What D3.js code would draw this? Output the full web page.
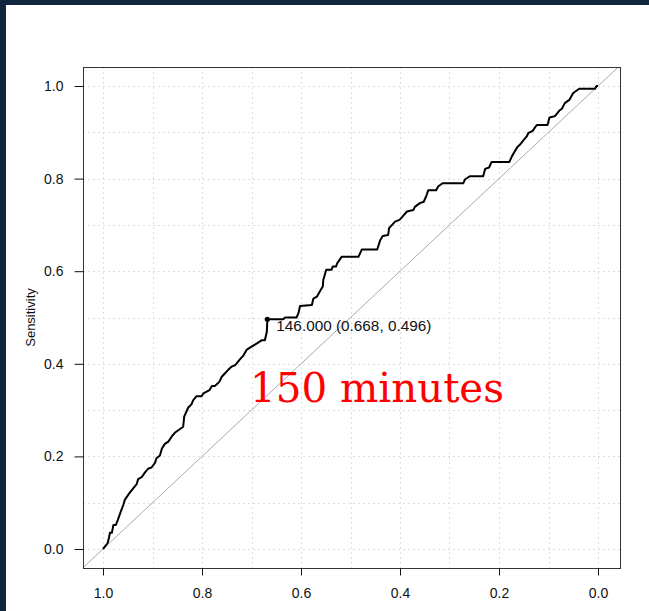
<!DOCTYPE html>
<html>
<head>
<meta charset="utf-8">
<script src="https://cdn.jsdelivr.net/npm/d3@7"></script>
<style>
  body { margin: 0; background: #ffffff; }
  svg { display: block; }
</style>
</head>
<body>
<div id="svg-container1"></div>
<script>
const width = 649;
const height = 611;
// plot box edges (R style, data range padded by 4%)
const box = {'left': 83, 'right': 620, 'top': 67, 'bottom': 568};

// ROC curve (specificity runs 1 -> 0)
const specificity = [1.000, 0.991, 0.988, 0.986, 0.982, 0.979, 0.974, 0.970, 0.964, 0.959,
    0.956, 0.947, 0.939, 0.932, 0.929, 0.922, 0.914, 0.908, 0.902, 0.895,
    0.892, 0.885, 0.881, 0.875, 0.868, 0.861, 0.855, 0.838, 0.836, 0.828,
    0.821, 0.818, 0.811, 0.801, 0.797, 0.785, 0.780, 0.774, 0.765, 0.760,
    0.754, 0.747, 0.740, 0.733, 0.723, 0.717, 0.710, 0.700, 0.689, 0.679,
    0.673, 0.669, 0.668, 0.636, 0.632, 0.609, 0.605, 0.602, 0.578, 0.575,
    0.568, 0.562, 0.556, 0.555, 0.549, 0.538, 0.536, 0.529, 0.527, 0.518,
    0.484, 0.477, 0.446, 0.440, 0.435, 0.424, 0.422, 0.410, 0.401, 0.395,
    0.386, 0.373, 0.370, 0.360, 0.352, 0.346, 0.343, 0.327, 0.323, 0.314,
    0.272, 0.269, 0.259, 0.232, 0.228, 0.220, 0.215, 0.179, 0.174, 0.168,
    0.163, 0.158, 0.152, 0.144, 0.141, 0.132, 0.127, 0.123, 0.102, 0.098,
    0.087, 0.078, 0.073, 0.067, 0.058, 0.050, 0.038, 0.006, 0.003, 0.000];
const sensitivity = [0.000, 0.012, 0.024, 0.035, 0.035, 0.052, 0.052, 0.063, 0.081, 0.095,
    0.106, 0.120, 0.131, 0.140, 0.151, 0.155, 0.167, 0.174, 0.176, 0.186,
    0.196, 0.202, 0.217, 0.227, 0.232, 0.243, 0.251, 0.264, 0.286, 0.305,
    0.313, 0.321, 0.330, 0.330, 0.336, 0.343, 0.352, 0.352, 0.361, 0.372,
    0.379, 0.387, 0.394, 0.397, 0.410, 0.417, 0.430, 0.437, 0.444, 0.451,
    0.451, 0.469, 0.496, 0.496, 0.500, 0.500, 0.510, 0.525, 0.527, 0.541,
    0.545, 0.556, 0.567, 0.581, 0.603, 0.603, 0.610, 0.610, 0.617, 0.631,
    0.631, 0.647, 0.647, 0.667, 0.676, 0.678, 0.693, 0.707, 0.711, 0.718,
    0.729, 0.732, 0.739, 0.747, 0.750, 0.765, 0.775, 0.775, 0.783, 0.790,
    0.790, 0.798, 0.805, 0.805, 0.821, 0.824, 0.836, 0.836, 0.848, 0.859,
    0.868, 0.873, 0.881, 0.891, 0.898, 0.903, 0.911, 0.916, 0.916, 0.932,
    0.935, 0.947, 0.951, 0.963, 0.970, 0.985, 0.994, 0.994, 1.000, 1.000];

// best threshold
const threshold = 146.000;
const bestSpec = 0.668;
const bestSens = 0.496;

const xTicks = [1.0, 0.8, 0.6, 0.4, 0.2, 0.0];
const yTicks = [0.0, 0.2, 0.4, 0.6, 0.8, 1.0];
const gridValues = [0, 0.1, 0.2, 0.3, 0.4, 0.5, 0.6, 0.7, 0.8, 0.9, 1.0];
const yLabel = 'Sensitivity';
const annotation = '150 minutes';

let svg;

window.addEventListener('load', () => {
    drawRocChart();
});

const drawRocChart = () => {
    const data = specificity.map((s, i) => ({spec: s, sens: sensitivity[i]}));

    svg = d3.select('#svg-container1')
    .append('svg')
    .attr('width', width)
    .attr('height', height);

    // page background with dark frame
    svg.append('rect')
    .attr('width', width)
    .attr('height', height)
    .attr('fill', '#ffffff');
    svg.append('rect')
    .attr('width', width)
    .attr('height', 5)
    .attr('fill', '#11253f');
    svg.append('rect')
    .attr('width', 6)
    .attr('height', height)
    .attr('fill', '#11253f');

    // scales
    var xAxis = d3.scaleLinear()
    .domain([1, 0])
    .range([103, 598]);

    var yAxis = d3.scaleLinear()
    .domain([0, 1])
    .range([549, 86]);

    svg.append('clipPath')
    .attr('id', 'plot-clip')
    .append('rect')
    .attr('x', box.left)
    .attr('y', box.top)
    .attr('width', box.right - box.left)
    .attr('height', box.bottom - box.top);

    // dotted grid
    const grid = svg.append('g').attr('class', 'grid');
    grid.selectAll('line.gx')
    .data(gridValues)
    .enter()
    .append('line')
    .attr('class', 'gx')
    .attr('x1', d => Math.round(xAxis(d)) + 0.5)
    .attr('x2', d => Math.round(xAxis(d)) + 0.5)
    .attr('y1', box.top)
    .attr('y2', box.bottom)
    .attr('stroke', '#dedede')
    .attr('stroke-dasharray', '2,3');
    grid.selectAll('line.gy')
    .data(gridValues)
    .enter()
    .append('line')
    .attr('class', 'gy')
    .attr('y1', d => Math.round(yAxis(d)) + 0.5)
    .attr('y2', d => Math.round(yAxis(d)) + 0.5)
    .attr('x1', box.left)
    .attr('x2', box.right)
    .attr('stroke', '#dedede')
    .attr('stroke-dasharray', '2,3');

    // chance diagonal
    svg.append('line')
    .attr('clip-path', 'url(#plot-clip)')
    .attr('x1', xAxis(1.1))
    .attr('y1', yAxis(-0.1))
    .attr('x2', xAxis(-0.1))
    .attr('y2', yAxis(1.1))
    .attr('stroke', '#aaaaaa')
    .attr('stroke-width', 1);

    // roc curve
    svg.append('path')
    .datum(data)
    .attr('fill', 'none')
    .attr('stroke', 'black')
    .attr('stroke-width', 2)
    .attr('stroke-linejoin', 'round')
    .attr('d', d3.line()
        .x(function(d) { return xAxis(d.spec) })
        .y(function(d) { return yAxis(d.sens) })
    );

    // threshold point and label
    svg.append('circle')
    .attr('cx', xAxis(bestSpec))
    .attr('cy', yAxis(bestSens))
    .attr('r', 2.6)
    .attr('fill', 'black');

    svg.append('text')
    .attr('x', xAxis(bestSpec) + 9)
    .attr('y', yAxis(bestSens) + 12)
    .attr('font-family', '"Liberation Sans", Arial, sans-serif')
    .attr('font-size', 14)
    .attr('textLength', 155)
    .attr('lengthAdjust', 'spacingAndGlyphs')
    .attr('fill', '#111')
    .text(threshold.toFixed(3) + ' (' + bestSpec.toFixed(3) + ', ' + bestSens.toFixed(3) + ')');

    // big red note
    svg.append('text')
    .attr('x', 250)
    .attr('y', 402)
    .attr('font-family', '"DejaVu Serif", serif')
    .attr('font-size', 41)
    .attr('textLength', 254)
    .attr('lengthAdjust', 'spacingAndGlyphs')
    .attr('fill', '#ff0000')
    .text(annotation);

    // box
    svg.append('rect')
    .attr('x', box.left + 0.5)
    .attr('y', box.top + 0.5)
    .attr('width', box.right - box.left)
    .attr('height', box.bottom - box.top)
    .attr('fill', 'none')
    .attr('stroke', '#333');

    // draw x-axis
    const gx = svg.append('g')
    .attr('class', 'x-axis')
    .attr('transform', 'translate(0, ' + (box.bottom + 0.5) + ')')
    .call(d3.axisBottom(xAxis)
        .tickValues(xTicks)
        .tickFormat(d3.format('.1f'))
        .tickSize(7)
        .tickPadding(13));
    gx.select('.domain').remove();

    // draw y-axis
    const gy = svg.append('g')
    .attr('class', 'y-axis')
    .attr('transform', 'translate(' + (box.left + 0.5) + ', 0)')
    .call(d3.axisLeft(yAxis)
        .tickValues(yTicks)
        .tickFormat(d3.format('.1f'))
        .tickSize(9)
        .tickPadding(11));
    gy.select('.domain').remove();

    svg.selectAll('.x-axis text, .y-axis text')
    .attr('font-family', '"Liberation Sans", Arial, sans-serif')
    .attr('font-size', 14)
    .attr('fill', '#111');
    svg.selectAll('.x-axis line, .y-axis line')
    .attr('stroke', '#111');

    // y-axis title
    svg.append('text')
    .attr('transform', 'translate(35, ' + ((box.top + box.bottom) / 2) + ') rotate(-90)')
    .attr('text-anchor', 'middle')
    .attr('font-family', '"Liberation Sans", Arial, sans-serif')
    .attr('font-size', 13)
    .attr('fill', '#111')
    .text(yLabel);
}
</script>
</body>
</html>
